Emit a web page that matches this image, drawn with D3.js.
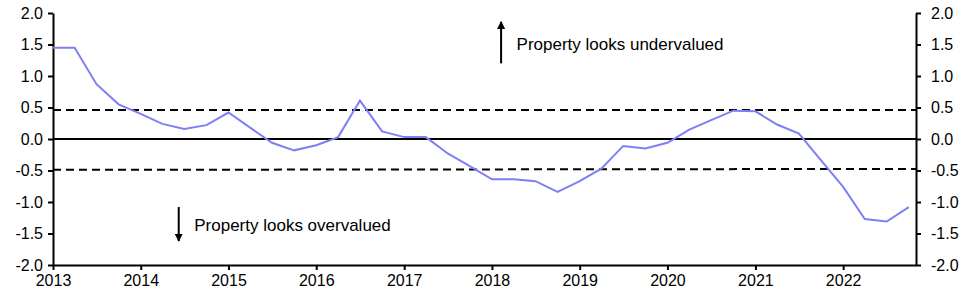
<!DOCTYPE html>
<html>
<head>
<meta charset="utf-8">
<script src="https://cdn.jsdelivr.net/npm/d3@7"></script>
<style>
  body { margin: 0; background: #fff; }
  svg { display: block; font-family: "Liberation Sans", Arial, sans-serif; }
</style>
</head>
<body>
<div id="chart"></div>
<script>
// Quarterly valuation score, Q1 2013 .. Q4 2022
const quarters = d3.range(40).map(i => new Date(2013 + Math.floor(i / 4), (i % 4) * 3, 1));
const values = [
  1.45, 1.45, 0.87, 0.55, 0.40, 0.24, 0.16, 0.22,
  0.42, 0.18, -0.06, -0.18, -0.10, 0.03, 0.61, 0.12,
  0.03, 0.03, -0.23, -0.43, -0.64, -0.64, -0.67, -0.84,
  -0.67, -0.47, -0.11, -0.15, -0.06, 0.15, 0.30, 0.45,
  0.44, 0.23, 0.085, -0.34, -0.76, -1.27, -1.31, -1.08
];
// dashed bands (start, end)
const upperBand = [0.46, 0.46];
const lowerBand = [-0.49, -0.475];
const yTicks = [2.0, 1.5, 1.0, 0.5, 0.0, -0.5, -1.0, -1.5, -2.0];
const xTickYears = d3.range(2013, 2023);

const width = 966;
const height = 294;
const margin = { top: 13, right: 50, bottom: 29, left: 53 };

const x = d3.scaleTime()
    .domain([new Date(2013, 0, 1), new Date(2022, 9, 31)])
    .range([margin.left, width - margin.right]);

const y = d3.scaleLinear()
    .domain([-2, 2])
    .range([height - margin.bottom, margin.top]);

const svg = d3.select("#chart").append("svg")
    .attr("width", width)
    .attr("height", height);

svg.append("defs").append("marker")
    .attr("id", "head")
    .attr("viewBox", "0 0 10 10")
    .attr("refX", 9)
    .attr("refY", 5)
    .attr("markerWidth", 4)
    .attr("markerHeight", 4)
    .attr("markerUnits", "strokeWidth")
    .attr("orient", "auto")
  .append("path")
    .attr("d", "M0,0L10,5L0,10Z")
    .attr("fill", "#000");

const fmt = d => d.toFixed(1);

// left axis
const yLeft = svg.append("g")
    .attr("transform", `translate(${margin.left},0)`)
    .call(d3.axisLeft(y).tickValues(yTicks).tickFormat(fmt).tickSize(5).tickPadding(5).tickSizeOuter(0));

// right axis
const yRight = svg.append("g")
    .attr("transform", `translate(${width - margin.right},0)`)
    .call(d3.axisRight(y).tickValues(yTicks).tickFormat(fmt).tickSize(5).tickPadding(10).tickSizeOuter(0));

// bottom axis
const xAxis = svg.append("g")
    .attr("transform", `translate(0,${height - margin.bottom})`)
    .call(d3.axisBottom(x)
        .tickValues(xTickYears.map(yr => new Date(yr, 0, 1)))
        .tickFormat(d3.timeFormat("%Y"))
        .tickSize(5).tickPadding(5).tickSizeOuter(0));

[yLeft, yRight, xAxis].forEach(g => {
  g.selectAll(".domain").attr("stroke", "#000").attr("stroke-width", 2);
  g.selectAll(".tick line").attr("stroke", "#000").attr("stroke-width", 2);
  g.selectAll("text").attr("font-size", 16).attr("fill", "#000")
    .attr("font-family", "'Liberation Sans', Arial, sans-serif");
});

// zero line
svg.append("line")
    .attr("x1", x.range()[0]).attr("x2", x.range()[1])
    .attr("y1", y(0)).attr("y2", y(0))
    .attr("stroke", "#000").attr("stroke-width", 2);

// dashed bands
[upperBand, lowerBand].forEach(b => {
  svg.append("line")
      .attr("x1", x.range()[0]).attr("x2", x.range()[1])
      .attr("y1", y(b[0])).attr("y2", y(b[1]))
      .attr("stroke", "#000").attr("stroke-width", 2)
      .attr("stroke-dasharray", "8,5");
});

// series
const line = d3.line()
    .x((d, i) => x(quarters[i]))
    .y(d => y(d));

svg.append("path")
    .datum(values)
    .attr("fill", "none")
    .attr("stroke", "#7f7ff5")
    .attr("stroke-width", 2)
    .attr("d", line);

// annotations
function note(date, arrowFrom, arrowTo, textVal, label) {
  svg.append("line")
      .attr("x1", x(date)).attr("x2", x(date))
      .attr("y1", y(arrowFrom)).attr("y2", y(arrowTo))
      .attr("stroke", "#000").attr("stroke-width", 2)
      .attr("marker-end", "url(#head)");
  svg.append("text")
      .attr("x", x(date) + 15.5)
      .attr("y", y(textVal))
      .attr("font-size", 17)
      .attr("fill", "#000")
      .text(label);
}

note(new Date(2018, 1, 8), 1.2, 1.86, 1.42, "Property looks undervalued");
note(new Date(2014, 5, 8), -1.08, -1.62, -1.46, "Property looks overvalued");
</script>
</body>
</html>
